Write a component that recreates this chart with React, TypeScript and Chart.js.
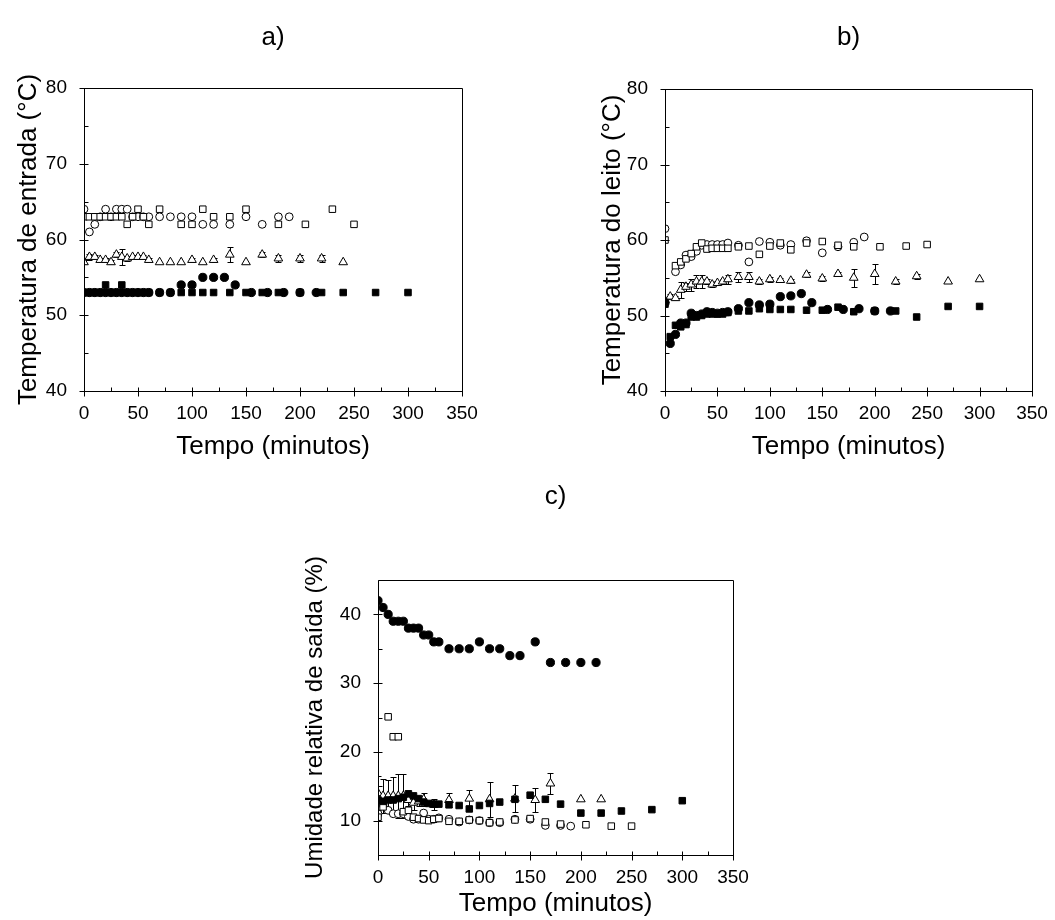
import React, { useEffect, useRef } from 'react';
import { Chart, registerables } from 'chart.js';

Chart.register(...registerables);

const FONT = "'Liberation Sans', Arial, Helvetica, sans-serif";

// ---------- tick labels ----------
const X_TICKS = [0, 50, 100, 150, 200, 250, 300, 350];
const Y_TICKS_AB = [40, 50, 60, 70, 80];
const Y_TICKS_C = [10, 20, 30, 40];

// ---------- sampling times (minutes) ----------
const T_SQ_FILL = [0, 5, 10, 15, 20, 25, 30, 35, 40, 45, 50, 55, 60, 70, 80, 90, 100, 110, 120, 135, 150, 165, 180, 200, 220, 240, 270, 300];
const T_CIRC_FILL = [0, 5, 10, 15, 20, 25, 30, 35, 40, 45, 50, 55, 60, 70, 80, 90, 100, 110, 120, 130, 140, 155, 170, 185, 200, 215];
const T_SQ_OPEN = [0, 5, 10, 15, 20, 25, 30, 35, 40, 45, 50, 55, 60, 70, 80, 90, 100, 110, 120, 135, 150, 165, 180, 205, 230, 250];
const T_CIRC_OPEN = [0, 5, 10, 15, 20, 25, 30, 35, 40, 45, 50, 55, 60, 70, 80, 90, 100, 110, 120, 135, 150, 165, 180, 190];
const T_TRI = [0, 5, 10, 15, 20, 25, 30, 35, 40, 45, 50, 55, 60, 70, 80, 90, 100, 110, 120, 135, 150, 165, 180, 200, 220, 240, 270, 300];
const T_TRI_C = [0, 5, 10, 15, 20, 25, 30, 35, 40, 45, 55, 70, 90, 110, 135, 155, 170, 200, 220];

// ---------- a) inlet temperature (°C) ----------
const A_SQ_FILL = [53, 53, 53, 53, 54, 53, 53, 54, 53, 53, 53, 53, 53, 53, 53, 53, 53, 53, 53, 53, 53, 53, 53, 53, 53, 53, 53, 53];
const A_CIRC_FILL = [53, 53, 53, 53, 53, 53, 53, 53, 53, 53, 53, 53, 53, 53, 53, 54, 54, 55, 55, 55, 54, 53, 53, 53, 53, 53];
const A_SQ_OPEN = [63, 63, 63, 63, 63, 63, 63, 63, 62, 63, 64, 63, 62, 64, null, 62, 62, 64, 63, 63, 64, null, 62, 62, 64, 62];
const A_CIRC_OPEN = [64, 61, 62, 63, 64, 63, 64, 64, 64, 63, 63, 63, 63, 63, 63, 63, 63, 62, 62, 62, 63, 62, 63, 63];
const A_TRI = [57, 57.7, 57.7, 57.3, 57.3, 57, 58, 57.7, 57.5, 57.7, 57.7, 57.7, 57.3, 57, 57, 57, 57.3, 57, 57.3, 58, 57, 58, 57.5, 57.5, 57.5, 57, null, null];
const A_TRI_ERR = [0.3, 0.4, 0.3, 0.3, 0.3, 0.3, 0.3, 1.1, 0.3, 0.3, 0.3, 0.3, 0.3, 0, 0, 0, 0.3, 0, 0.3, 1.0, 0, 0.3, 0.5, 0.5, 0.5, 0, null, null];

// ---------- b) bed temperature (°C) ----------
const B_SQ_FILL = [51.5, 47.2, 48.7, 48.5, 48.8, 49.8, 49.8, 50, 50.2, 50.2, 50.2, 50.2, 50.4, 50.6, 50.6, 50.9, 50.8, 50.8, 50.8, 50.7, 50.7, 51.1, 50.5, 50.6, 50.6, 49.8, 51.2, 51.2];
const B_CIRC_FILL = [51.7, 46.3, 47.5, 49.0, 49.0, 50.3, 50.0, 50.2, 50.5, 50.4, 50.3, 50.4, 50.5, 50.9, 51.7, 51.4, 51.5, 52.5, 52.6, 52.9, 51.7, 50.8, 50.8, 50.9, 50.6, 50.6];
const B_SQ_OPEN = [60, null, 56.6, 57.1, 57.5, 58.2, 59.1, 59.6, 58.8, 58.9, 58.9, 58.9, 58.9, 59.1, 59.2, 58.1, 59.2, 59.6, 58.7, 59.6, 59.8, 59.3, 59.1, 59.1, 59.2, 59.4];
const B_CIRC_OPEN = [61.5, null, 55.8, 56.7, 58.0, 57.8, 58.5, 59.3, 59.4, 59.4, 59.4, 59.4, 59.6, 59.3, 57.1, 59.8, 59.7, 59.3, 59.4, 59.9, 58.3, 59.1, 59.7, 60.4];
const B_TRI = [52, 52.5, 52.3, 53.4, 53.8, 54.1, 54.5, 54.5, 54.5, 54.1, 54.3, 54.5, 54.8, 55.1, 55.1, 54.5, 54.8, 54.7, 54.6, 55.4, 54.9, 55.5, 55.0, 55.5, 54.5, 55.2, 54.5, 54.8];
const B_TRI_ERR = [0, 0.3, 0.3, 1.1, 0.5, 0.8, 0.8, 0.8, 0.3, 0.3, 0.3, 0.3, 0.6, 0.6, 0.6, 0.3, 0.3, 0.3, 0.3, 0.3, 0.3, 0.3, 1.2, 1.3, 0.3, 0.3, 0, 0];

// ---------- c) outlet relative humidity (%) ----------
const C_SQ_FILL = [13.0, 12.8, 13.0, 13.0, 13.2, 13.4, 13.9, 13.6, 13.2, 12.7, 12.5, 12.4, 12.4, 12.3, 12.2, 11.7, 12.2, 12.5, 12.7, 13.1, 13.7, 13.1, 12.4, 11.1, 11.1, 11.4, 11.6, 12.9];
const C_CIRC_FILL = [42, 41, 40, 39, 39, 39, 38, 38, 38, 37, 37, 36, 36, 35, 35, 35, 36, 35, 35, 34, 34, 36, 33, 33, 33, 33];
const C_SQ_OPEN = [10.5, 12, 25.1, 22.2, 22.2, 11.3, 11.5, 10.5, 10.3, 10.1, 10.0, 10.2, 10.3, 9.9, 9.9, 10.1, 10.0, 9.7, 9.8, 10.1, 10.3, 9.8, 9.5, 9.4, 9.2, 9.2];
const C_CIRC_OPEN = [11, 12.3, 11.5, 11, 11, 11, 10.6, 10.2, 10.2, 11.1, 10.2, 10.2, 10.4, 10.2, 9.8, 10.1, 10.0, 9.7, 9.7, 10.2, 10.2, 9.3, 9.3, 9.2];
const C_TRI = [14.0, 13.6, 13.6, 13.6, 13.6, 13.6, 13.0, 12.6, 12.8, 13.1, 12.3, 13.0, 13.2, 13.1, 13.2, 13.0, 15.4, 13.1, 13.1];
const C_TRI_ERR = [2.5, 2.5, 2.3, 2.8, 3.2, 3.2, 0.8, 1.0, 0.6, 0.9, 0.8, 1.0, 1.3, 2.5, 2.0, 1.7, 1.5, 0, 0];

// ---------- marker styles ----------
const STYLE: Record<string, any> = {
  sqFill: { pointStyle: 'rect', pointRadius: 4.6, fill: '#000' },
  circFill: { pointStyle: 'circle', pointRadius: 4.1, fill: '#000' },
  sqOpen: { pointStyle: 'rect', pointRadius: 4.6, fill: '#fff' },
  circOpen: { pointStyle: 'circle', pointRadius: 3.9, fill: '#fff' },
  tri: { pointStyle: 'triangle', pointRadius: 5.0, fill: '#fff' },
};

type Series = { kind: string; t: number[]; v: (number | null)[]; err?: (number | null)[] };

const errorBarPlugin = {
  id: 'errorBars',
  beforeDatasetsDraw(chart: any) {
    const { ctx, chartArea: a } = chart;
    const ys = chart.scales.y;
    ctx.save();
    ctx.beginPath();
    ctx.rect(a.left, a.top, a.right - a.left, a.bottom - a.top);
    ctx.clip();
    ctx.strokeStyle = '#000';
    ctx.lineWidth = 1;
    chart.data.datasets.forEach((ds: any, i: number) => {
      if (!ds.errors) return;
      const meta = chart.getDatasetMeta(i);
      meta.data.forEach((pt: any, j: number) => {
        const e = ds.errors[j];
        const d = ds.data[j];
        if (!e || !d || d.y == null) return;
        const x = Math.round(pt.x) + 0.5;
        const yT = Math.round(ys.getPixelForValue(d.y + e)) + 0.5;
        const yB = Math.round(ys.getPixelForValue(d.y - e)) + 0.5;
        ctx.beginPath();
        ctx.moveTo(x, yT);
        ctx.lineTo(x, yB);
        ctx.moveTo(x - 3, yT);
        ctx.lineTo(x + 3, yT);
        ctx.moveTo(x - 3, yB);
        ctx.lineTo(x + 3, yB);
        ctx.stroke();
      });
    });
    ctx.restore();
  },
};

const framePlugin = {
  id: 'frame',
  afterDatasetsDraw(chart: any, _args: any, opts: any) {
    const { ctx, chartArea: a } = chart;
    const xs = chart.scales.x;
    const ys = chart.scales.y;
    const l = Math.round(a.left) + 0.5;
    const r = Math.round(a.right) + 0.5;
    const t = Math.round(a.top) + 0.5;
    const b = Math.round(a.bottom) + 0.5;
    ctx.save();
    ctx.strokeStyle = '#000';
    ctx.lineWidth = 1;
    ctx.beginPath();
    ctx.rect(l, t, r - l, b - t);
    ctx.stroke();
    ctx.beginPath();
    const xMajors = xs.ticks.map((k: any) => k.value);
    const yMajors = ys.ticks.map((k: any) => k.value);
    for (let v = xs.min; v <= xs.max + 1e-9; v += opts.xMinor) {
      const px = Math.round(xs.getPixelForValue(v)) + 0.5;
      if (xMajors.includes(v)) {
        ctx.moveTo(px, b - 4);
        ctx.lineTo(px, b + 5);
      } else {
        ctx.moveTo(px, b - 4);
        ctx.lineTo(px, b);
      }
    }
    for (let v = ys.min; v <= ys.max + 1e-9; v += opts.yMinor) {
      const py = Math.round(ys.getPixelForValue(v)) + 0.5;
      if (yMajors.includes(v)) {
        ctx.moveTo(l - 5, py);
        ctx.lineTo(l + 4, py);
      } else {
        ctx.moveTo(l, py);
        ctx.lineTo(l + 4, py);
      }
    }
    ctx.stroke();
    ctx.fillStyle = '#000';
    ctx.font = `26px ${FONT}`;
    ctx.textAlign = 'center';
    ctx.textBaseline = 'middle';
    ctx.fillText(opts.label, (a.left + a.right) / 2, opts.labelY);
    ctx.restore();
  },
};

type PanelCfg = {
  left: number; top: number; w: number; h: number;
  yAxisW: number; xAxisH: number; padTop: number; padRight: number;
  yTitle: string; yTitleSize: number; yTitlePad: number; xTitlePadB: number;
  yMin: number; yMax: number; yTicks: number[]; yMinor: number;
  label: string; labelY: number;
  series: Series[];
};

function Panel({ cfg }: { cfg: PanelCfg }) {
  const ref = useRef<HTMLCanvasElement>(null);
  useEffect(() => {
    if (!ref.current) return;
    const datasets = cfg.series.map((s) => {
      const st = STYLE[s.kind];
      return {
        type: 'scatter',
        data: s.t.map((t, i) => ({ x: t, y: s.v[i] })),
        errors: s.err,
        pointStyle: st.pointStyle,
        pointRadius: st.pointRadius,
        pointHoverRadius: st.pointRadius,
        pointBackgroundColor: st.fill,
        pointBorderColor: '#000',
        pointBorderWidth: 1,
        showLine: false,
        clip: 0,
      };
    });
    const chart = new Chart(ref.current, {
      type: 'scatter',
      data: { datasets } as any,
      options: {
        animation: false,
        responsive: false,
        maintainAspectRatio: false,
        events: [],
        layout: { padding: { left: 0, right: cfg.padRight, top: cfg.padTop, bottom: 0 } },
        plugins: {
          legend: { display: false },
          tooltip: { enabled: false },
          title: { display: false },
          frame: { xMinor: 25, yMinor: cfg.yMinor, label: cfg.label, labelY: cfg.labelY },
        } as any,
        scales: {
          x: {
            type: 'linear',
            min: 0,
            max: 350,
            grid: { display: false },
            border: { display: false },
            ticks: { color: '#000', font: { family: FONT, size: 19 }, padding: 3, autoSkip: false, maxRotation: 0 },
            afterBuildTicks: (s: any) => { s.ticks = X_TICKS.map((v) => ({ value: v })); },
            afterFit: (s: any) => { s.height = cfg.xAxisH; },
            title: {
              display: true,
              text: 'Tempo (minutos)',
              color: '#000',
              font: { family: FONT, size: 26 },
              padding: { top: 0, bottom: cfg.xTitlePadB },
            },
          },
          y: {
            type: 'linear',
            min: cfg.yMin,
            max: cfg.yMax,
            grid: { display: false },
            border: { display: false },
            ticks: { color: '#000', font: { family: FONT, size: 19 }, padding: 9, autoSkip: false },
            afterBuildTicks: (s: any) => { s.ticks = cfg.yTicks.map((v) => ({ value: v })); },
            afterFit: (s: any) => { s.width = cfg.yAxisW; },
            title: {
              display: true,
              text: cfg.yTitle,
              color: '#000',
              font: { family: FONT, size: cfg.yTitleSize },
              padding: { top: cfg.yTitlePad, bottom: 0 },
            },
          },
        },
      } as any,
      plugins: [errorBarPlugin, framePlugin],
    });
    return () => chart.destroy();
  }, []);
  return (
    <canvas
      ref={ref}
      width={cfg.w}
      height={cfg.h}
      style={{ position: 'absolute', left: cfg.left, top: cfg.top, width: cfg.w, height: cfg.h }}
    />
  );
}

const PANEL_A: PanelCfg = {
  left: 0, top: 0, w: 530, h: 470,
  yAxisW: 84, xAxisH: 79, padTop: 88, padRight: 68,
  yTitle: 'Temperatura de entrada (°C)', yTitleSize: 26, yTitlePad: 13.4, xTitlePadB: 7.4,
  yMin: 40, yMax: 80, yTicks: Y_TICKS_AB, yMinor: 5,
  label: 'a)', labelY: 38,
  series: [
    { kind: 'sqFill', t: T_SQ_FILL, v: A_SQ_FILL },
    { kind: 'circFill', t: T_CIRC_FILL, v: A_CIRC_FILL },
    { kind: 'sqOpen', t: T_SQ_OPEN, v: A_SQ_OPEN },
    { kind: 'circOpen', t: T_CIRC_OPEN, v: A_CIRC_OPEN },
    { kind: 'tri', t: T_TRI, v: A_TRI, err: A_TRI_ERR },
  ],
};

const PANEL_B: PanelCfg = {
  left: 560, top: 0, w: 495, h: 470,
  yAxisW: 105, xAxisH: 79, padTop: 89, padRight: 23,
  yTitle: 'Temperatura do leito (°C)', yTitleSize: 26, yTitlePad: 37.4, xTitlePadB: 7.4,
  yMin: 40, yMax: 80, yTicks: Y_TICKS_AB, yMinor: 5,
  label: 'b)', labelY: 38,
  series: [
    { kind: 'sqFill', t: T_SQ_FILL, v: B_SQ_FILL },
    { kind: 'circFill', t: T_CIRC_FILL, v: B_CIRC_FILL },
    { kind: 'sqOpen', t: T_SQ_OPEN, v: B_SQ_OPEN },
    { kind: 'circOpen', t: T_CIRC_OPEN, v: B_CIRC_OPEN },
    { kind: 'tri', t: T_TRI, v: B_TRI, err: B_TRI_ERR },
  ],
};

const PANEL_C: PanelCfg = {
  left: 260, top: 470, w: 540, h: 450,
  yAxisW: 118, xAxisH: 65, padTop: 110, padRight: 67,
  yTitle: 'Umidade relativa de saída (%)', yTitleSize: 24, yTitlePad: 40.6, xTitlePadB: 0.4,
  yMin: 5, yMax: 45, yTicks: Y_TICKS_C, yMinor: 5,
  label: 'c)', labelY: 27,
  series: [
    { kind: 'sqFill', t: T_SQ_FILL, v: C_SQ_FILL },
    { kind: 'circFill', t: T_CIRC_FILL, v: C_CIRC_FILL },
    { kind: 'sqOpen', t: T_SQ_OPEN, v: C_SQ_OPEN },
    { kind: 'circOpen', t: T_CIRC_OPEN, v: C_CIRC_OPEN },
    { kind: 'tri', t: T_TRI_C, v: C_TRI, err: C_TRI_ERR },
  ],
};

export default function App() {
  return (
    <div style={{ position: 'absolute', left: 0, top: 0, width: 1055, height: 920, background: '#fff' }}>
      <Panel cfg={PANEL_A} />
      <Panel cfg={PANEL_B} />
      <Panel cfg={PANEL_C} />
    </div>
  );
}
